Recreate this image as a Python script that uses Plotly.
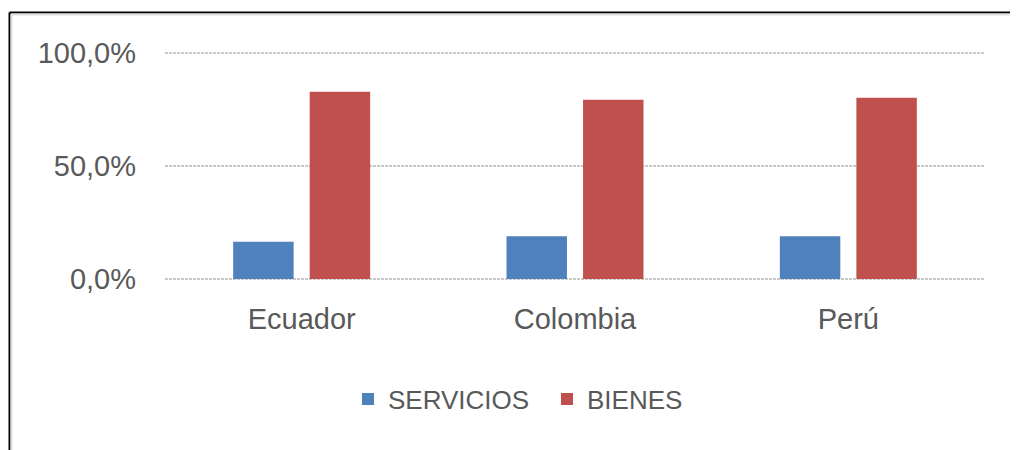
import plotly.graph_objects as go

paises = ["Ecuador", "Colombia", "Perú"]
servicios = [0.165, 0.189, 0.189]
bienes = [0.829, 0.793, 0.802]
tick_vals = [0.0, 0.5, 1.0]

AZUL = "#4F81BD"
ROJO = "#C0504D"
GRIS_TXT = "#595959"

fig = go.Figure()
fig.add_trace(go.Bar(name="SERVICIOS", x=paises, y=servicios, marker_color=AZUL,
                     marker_line_width=0))
fig.add_trace(go.Bar(name="BIENES", x=paises, y=bienes, marker_color=ROJO,
                     marker_line_width=0))

# The page body has an 8px default margin: lay out in reference pixel
# coordinates and subtract that offset.
OFF = 8
W, H = 1018 - OFF, 450 - OFF
L, R, T, B = 165 - OFF, 33, 41, 167
pw, ph = W - L - R, H - T - B
pad_frac = 4 / (ph - 8)

def px_x(x):
    return (x - OFF - L) / pw

def px_y(y):
    return (H - B - (y - OFF)) / ph

fig.update_layout(
    width=W, height=H,
    margin=dict(l=L, r=R, t=T, b=B, pad=0),
    paper_bgcolor="white", plot_bgcolor="white",
    separators=",.",
    barmode="group", bargap=0.44, bargroupgap=0.21,
    font=dict(family="Liberation Sans, Arial, sans-serif", color=GRIS_TXT, size=29),
    showlegend=True,
    legend=dict(orientation="h", x=px_x(348), xanchor="left",
                y=px_y(399), yanchor="middle",
                font=dict(size=26, color=GRIS_TXT), entrywidth=154,
                bgcolor="rgba(0,0,0,0)", itemwidth=30, traceorder="normal"),
    xaxis=dict(showgrid=False, showline=False, zeroline=False, ticks="",
               tickfont=dict(size=29, color=GRIS_TXT), ticklabelstandoff=16,
               range=[-0.5, 2.5]),
    yaxis=dict(range=[-pad_frac, 1 + pad_frac], tickvals=tick_vals, tickformat=".1%",
               showgrid=True, gridcolor="#C8C8C8", gridwidth=2, griddash="3px,1px",
               zeroline=False, showline=False, ticks="",
               tickfont=dict(size=29, color=GRIS_TXT), ticklabelstandoff=28),
    shapes=[
        dict(type="line", xref="paper", yref="paper",
             x0=px_x(9.5), x1=px_x(1030), y0=px_y(12.5), y1=px_y(12.5),
             line=dict(color="black", width=2)),
        dict(type="line", xref="paper", yref="paper",
             x0=px_x(9.5), x1=px_x(9.5), y0=px_y(12.5), y1=px_y(460),
             line=dict(color="black", width=2)),
        dict(type="line", xref="paper", yref="paper",
             x0=px_x(11), x1=px_x(1030), y0=px_y(14.5), y1=px_y(14.5),
             line=dict(color="#DDDDDD", width=2)),
        dict(type="line", xref="paper", yref="paper",
             x0=px_x(11.5), x1=px_x(11.5), y0=px_y(14.5), y1=px_y(460),
             line=dict(color="#DDDDDD", width=2)),
    ],
)

fig.write_html("out.html")
